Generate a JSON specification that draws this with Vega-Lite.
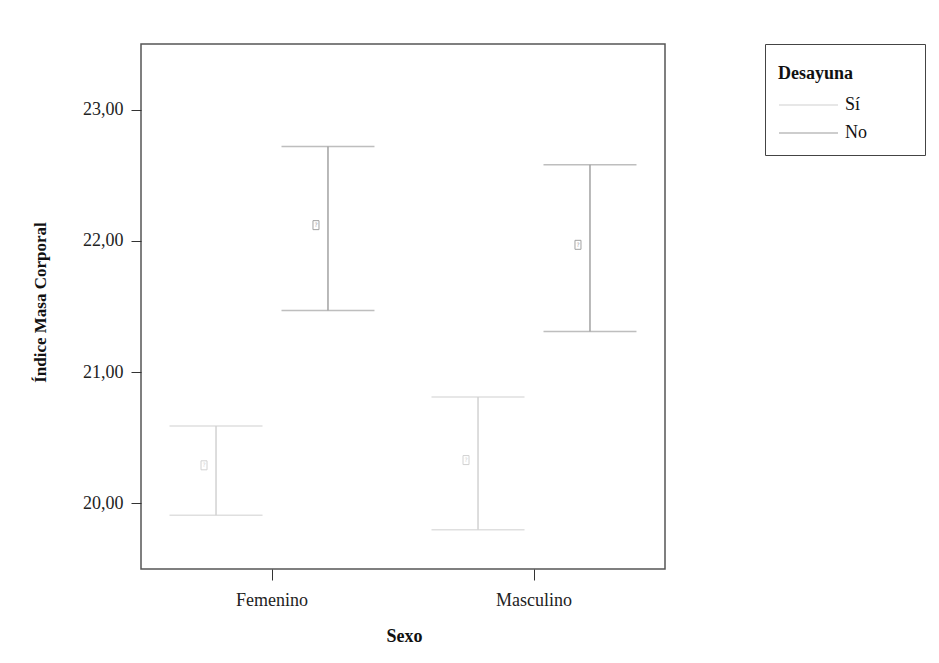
{
  "$schema": "https://vega.github.io/schema/vega-lite/v6.json",
  "width": 524,
  "height": 525,
  "autosize": {"type": "none"},
  "padding": {"left": 141, "top": 44, "right": 274, "bottom": 94},
  "background": "white",
  "config": {
    "font": "Liberation Serif",
    "view": {"stroke": "#555555", "strokeWidth": 1.5},
    "axis": {"domain": false, "grid": false, "tickColor": "#333333", "tickWidth": 1, "labelColor": "#222222", "titleColor": "#111111", "labelFont": "Liberation Serif", "titleFont": "Liberation Serif"},
    "legend": {"titleFont": "Liberation Serif", "labelFont": "Liberation Serif"}
  },
  "data": {
    "values": [
      {"Sexo": "Femenino", "Desayuna": "Sí", "media": 20.29, "inferior": 19.91, "superior": 20.59},
      {"Sexo": "Femenino", "Desayuna": "No", "media": 22.12, "inferior": 21.47, "superior": 22.72},
      {"Sexo": "Masculino", "Desayuna": "Sí", "media": 20.33, "inferior": 19.8, "superior": 20.81},
      {"Sexo": "Masculino", "Desayuna": "No", "media": 21.97, "inferior": 21.31, "superior": 22.58}
    ]
  },
  "encoding": {
    "x": {
      "field": "Sexo",
      "type": "nominal",
      "scale": {"paddingInner": 0, "paddingOuter": 0},
      "axis": {
        "title": "Sexo",
        "labelAngle": 0,
        "tickSize": 11,
        "labelPadding": 11,
        "labelFontSize": 18,
        "titleFontSize": 18,
        "titleFontWeight": "bold",
        "titleX": 263,
        "titleY": 67,
        "titleBaseline": "middle"
      }
    },
    "xOffset": {
      "field": "Desayuna",
      "type": "nominal",
      "sort": ["Sí", "No"],
      "scale": {"paddingInner": 0, "paddingOuter": 0.17}
    },
    "color": {
      "field": "Desayuna",
      "type": "nominal",
      "sort": ["Sí", "No"],
      "scale": {"domain": ["Sí", "No"], "range": ["#d2d2d2", "#a2a2a2"]},
      "legend": {
        "orient": "none",
        "legendX": 624,
        "legendY": 0,
        "title": "Desayuna\u00a0\u00a0\u00a0\u00a0\u00a0\u00a0\u00a0\u00a0\u00a0\u00a0\u00a0\u00a0\u00a0\u200b",
        "titleBaseline": "line-top",
        "titleLineHeight": 34,
        "strokeColor": "#444444",
        "padding": 13,
        "titleFontSize": 18,
        "titleFontWeight": "bold",
        "titleColor": "#111111",
        "titlePadding": 21,
        "labelFontSize": 18,
        "labelColor": "#111111",
        "rowPadding": 10,
        "labelOffset": 49,
        "symbolSize": 256,
        "symbolType": "M-1,0H6.375",
        "symbolStrokeWidth": 1.5
      }
    }
  },
  "layer": [
    {
      "mark": {"type": "rule", "strokeWidth": 1.5},
      "encoding": {
        "y": {
          "field": "inferior",
          "type": "quantitative",
          "title": "Índice Masa Corporal",
          "scale": {"domain": [19.5, 23.5], "nice": false, "zero": false},
          "axis": {
            "values": [20, 21, 22, 23],
            "labelExpr": "replace(format(datum.value, '.2f'), '.', ',')",
            "tickSize": 10,
            "labelPadding": 8,
            "labelFontSize": 18,
            "titleFontSize": 17,
            "titleFontWeight": "bold",
            "titleX": -101,
            "titleY": 258,
            "titleBaseline": "middle",
            "titleAlign": "center",
            "titleAngle": 270
          }
        },
        "y2": {"field": "superior"}
      }
    },
    {
      "mark": {"type": "tick", "size": 93, "thickness": 1.5},
      "encoding": {"y": {"field": "superior", "type": "quantitative", "title": "Índice Masa Corporal"}}
    },
    {
      "mark": {"type": "tick", "size": 93, "thickness": 1.5},
      "encoding": {"y": {"field": "inferior", "type": "quantitative", "title": "Índice Masa Corporal"}}
    },
    {
      "mark": {"type": "point", "shape": "M-1.25,-0.375H-0.75V0.375H-1.25Z", "size": 576, "filled": false, "strokeWidth": 1, "opacity": 1},
      "encoding": {"y": {"field": "media", "type": "quantitative", "title": "Índice Masa Corporal"}}
    },
    {
      "mark": {"type": "text", "text": "?", "fontSize": 6, "dx": -12, "font": "DejaVu Sans"},
      "encoding": {"y": {"field": "media", "type": "quantitative", "title": "Índice Masa Corporal"}}
    }
  ]
}
